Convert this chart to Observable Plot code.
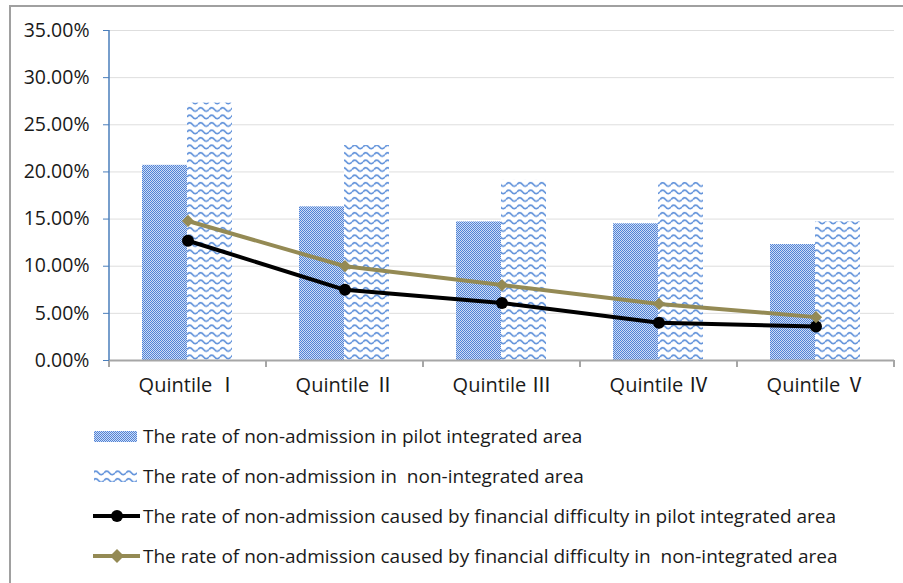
<!DOCTYPE html>
<html><head><meta charset="utf-8">
<script src="https://cdn.jsdelivr.net/npm/d3@7"></script>
<script src="https://cdn.jsdelivr.net/npm/@observablehq/plot@0.6"></script>
<style>
body{margin:0;background:#fff;width:903px;height:583px;overflow:hidden;position:relative;font-family:"Open Sans","Noto Sans CJK SC",sans-serif;}
#frame{position:absolute;left:9px;top:5px;width:1000px;height:1000px;border-top:2px solid #a0a0a0;border-left:2px solid #a0a0a0;}
#chart{position:absolute;left:0;top:0;}
.row{position:absolute;left:93px;height:30px;display:flex;align-items:center;font-size:19px;color:#1a1a1a;white-space:pre;}
.row svg{margin-right:2px;}
</style></head><body>
<div id="frame"></div>
<div id="chart"></div>
<div id="legend"></div>
<script>
const quintiles = ["Quintile Ⅰ", "Quintile Ⅱ", "Quintile Ⅲ", "Quintile Ⅳ", "Quintile Ⅴ"];
const pilotRate = [0.207, 0.163, 0.147, 0.145, 0.123];
const nonRate = [0.273, 0.228, 0.191, 0.189, 0.147];
const pilotFin = [0.127, 0.075, 0.061, 0.040, 0.036];
const nonFin = [0.148, 0.100, 0.080, 0.060, 0.046];
const yTicks = [0, 0.05, 0.10, 0.15, 0.20, 0.25, 0.30, 0.35];
const seriesNames = [
  "The rate of non-admission in pilot integrated area",
  "The rate of non-admission in  non-integrated area",
  "The rate of non-admission caused by financial difficulty in pilot integrated area",
  "The rate of non-admission caused by financial difficulty in  non-integrated area"
];

const data = quintiles.map((q, i) => ({q, pilot: pilotRate[i], non: nonRate[i], pfin: pilotFin[i], nfin: nonFin[i]}));

const GOLD = "#948a54";
const BLUE_AXIS = "#4a7ebb";
const GRAY = "#a6a6a6";

function axisDecor(index, scales, values, dimensions) {
  const x = scales.x, y = scales.y;
  const bw = x.bandwidth ? x.bandwidth() : 0;
  const y0 = y(0);
  const g = d3.create("svg:g");
  const edges = quintiles.map(q => x(q)).concat([x(quintiles[quintiles.length - 1]) + bw]);
  g.append("g").attr("stroke", GRAY).attr("stroke-width", 2)
    .selectAll("line").data(edges).join("line")
    .attr("x1", d => d).attr("x2", d => d).attr("y1", y0).attr("y2", y0 + 7);
  const xl = x(quintiles[0]);
  g.append("line").attr("stroke", BLUE_AXIS).attr("stroke-width", 1.5)
    .attr("x1", xl).attr("x2", xl).attr("y1", y(yTicks[yTicks.length - 1])).attr("y2", y0);
  return g.node();
}

const plot = Plot.plot({
  width: 903,
  height: 400,
  marginTop: 30,
  marginBottom: 40,
  marginLeft: 109,
  marginRight: 9,
  style: {fontFamily: "'Open Sans', 'Noto Sans CJK SC', sans-serif", background: "transparent", color: "#1a1a1a"},
  x: {domain: quintiles, padding: 0, round: false, label: null},
  y: {domain: [0, 0.35], label: null},
  marks: [
    Plot.gridY(yTicks, {stroke: "#dedede", strokeOpacity: 1, strokeWidth: 1}),
    Plot.barY(data, {x: "q", y: "pilot", fill: "url(#chk)", insetLeft: 33, insetRight: 79}),
    Plot.barY(data, {x: "q", y: "non", fill: "url(#wave)", insetLeft: 78, insetRight: 34}),
    Plot.ruleY([0], {stroke: GRAY, strokeWidth: 2}),
    axisDecor,
    Plot.axisY(yTicks, {tickFormat: d => (d * 100).toFixed(2) + "%", tickSize: 6, tickPadding: 14, stroke: BLUE_AXIS, fill: "#1a1a1a", fontSize: 19.5}),
    Plot.axisX({tickSize: 0, tickPadding: 17, fontSize: 20, fill: "#1a1a1a"}),
    Plot.line(data, {x: "q", y: "pfin", stroke: "#000", strokeWidth: 4}),
    Plot.dot(data, {x: "q", y: "pfin", r: 6, fill: "#000", stroke: "none"}),
    Plot.line(data, {x: "q", y: "nfin", stroke: GOLD, strokeWidth: 4}),
    Plot.dot(data, {x: "q", y: "nfin", symbol: "diamond2", r: 5.5, fill: GOLD, stroke: "none"})
  ]
});

plot.insertAdjacentHTML("afterbegin", `
<defs>
  <pattern id="chk" patternUnits="userSpaceOnUse" width="2" height="2">
    <rect width="2" height="2" fill="#cfdcf5"/>
    <rect width="1" height="1" fill="#4f83d6"/>
    <rect x="1" y="1" width="1" height="1" fill="#4f83d6"/>
  </pattern>
  <pattern id="wave" patternUnits="userSpaceOnUse" width="11" height="7.5">
    <rect width="11" height="7.5" fill="#fff"/>
    <path d="M0,4.5 Q2.75,1 5.5,4.5 T11,4.5" fill="none" stroke="#5b8ed9" stroke-width="1.6"/>
  </pattern>
</defs>`);
document.getElementById("chart").appendChild(plot);

// Legend
const legend = d3.select("#legend");
const centers = [436, 476, 516, 556];
seriesNames.forEach((name, i) => {
  const row = legend.append("div").attr("class", "row").style("top", (centers[i] - 15) + "px");
  const s = row.append("svg").attr("width", 48).attr("height", 30);
  if (i === 0) s.append("rect").attr("x", 1).attr("y", 10).attr("width", 43).attr("height", 11).attr("fill", "url(#chk)");
  else if (i === 1) s.append("rect").attr("x", 1).attr("y", 9).attr("width", 43).attr("height", 12).attr("fill", "url(#wave)");
  else {
    const c = i === 2 ? "#000" : GOLD;
    s.append("line").attr("x1", 0).attr("x2", 47).attr("y1", 15).attr("y2", 15).attr("stroke", c).attr("stroke-width", 4);
    if (i === 2) s.append("circle").attr("cx", 24).attr("cy", 15).attr("r", 6).attr("fill", c);
    else s.append("path").attr("d", "M24,8L31,15L24,22L17,15Z").attr("fill", c);
  }
  row.append("span").text(name);
});
</script>
</body></html>
